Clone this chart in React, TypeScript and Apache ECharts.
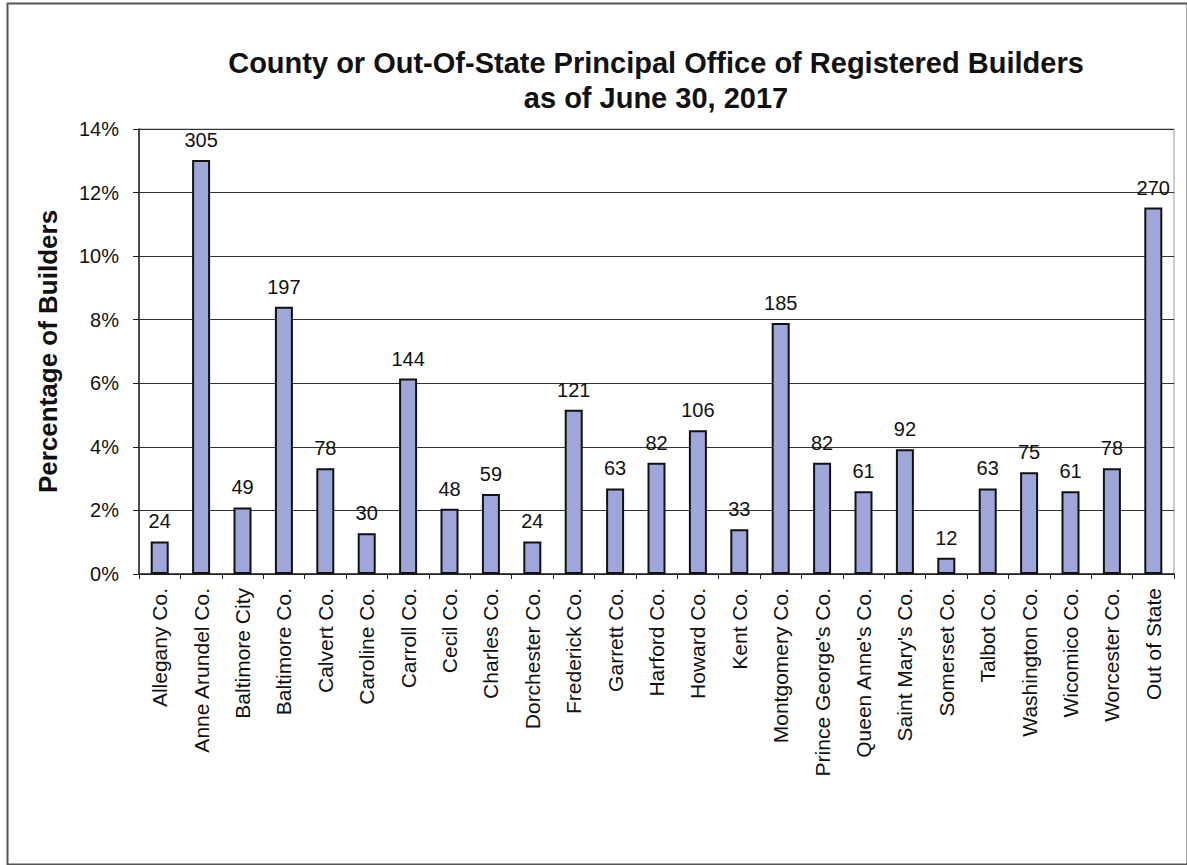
import React, { useEffect, useRef } from "react";
import * as echarts from "echarts";

const categories = [
  "Allegany Co.", "Anne Arundel Co.", "Baltimore City", "Baltimore Co.", "Calvert Co.",
  "Caroline Co.", "Carroll Co.", "Cecil Co.", "Charles Co.", "Dorchester Co.",
  "Frederick Co.", "Garrett Co.", "Harford Co.", "Howard Co.", "Kent Co.",
  "Montgomery Co.", "Prince George's Co.", "Queen Anne's Co.", "Saint Mary's Co.", "Somerset Co.",
  "Talbot Co.", "Washington Co.", "Wicomico Co.", "Worcester Co.", "Out of State",
];

const builderCounts = [
  24, 305, 49, 197, 78, 30, 144, 48, 59, 24, 121, 63, 82, 106, 33, 185, 82, 61, 92, 12, 63, 75, 61, 78, 270,
];

const yTicks = [0, 2, 4, 6, 8, 10, 12, 14];

const titleLines = [
  "County or Out-Of-State Principal Office of Registered Builders",
  "as of June 30, 2017",
];

export default function App() {
  const ref = useRef<HTMLDivElement>(null);
  useEffect(() => {
    if (!ref.current) return;
    const chart = echarts.init(ref.current, null, { renderer: "svg" });
    const total = builderCounts.reduce((a, b) => a + b, 0);
    const pct = builderCounts.map((c) => ({ value: (c / total) * 100, count: c }));
    const font = "'Liberation Sans', Arial, sans-serif";
    chart.setOption({
      animation: false,
      backgroundColor: "#ffffff",
      textStyle: { fontFamily: font },
      title: {
        text: titleLines.join("\n"),
        left: 651,
        textAlign: "center",
        top: 40,
        textStyle: { fontFamily: font, fontSize: 29, fontWeight: "bold", color: "#111", lineHeight: 35 },
      },
      graphic: {
        elements: [
          {
            type: "rect",
            left: 5,
            top: 1,
            z: 100,
            silent: true,
            shape: { width: 1180, height: 861 },
            style: { fill: "none", stroke: "#555", lineWidth: 2 },
          },
        ],
      },
      grid: { left: 139, top: 129, right: 13, bottom: 291, show: true, borderColor: "#999", borderWidth: 1, backgroundColor: "#fff" },
      xAxis: {
        type: "category",
        data: categories,
        axisLine: { lineStyle: { color: "#222", width: 1.5 } },
        axisTick: { show: true, length: 5, lineStyle: { color: "#222" } },
        axisLabel: {
          rotate: 90,
          interval: 0,
          fontSize: 21,
          color: "#111",
          fontFamily: font,
          margin: 14,
        },
      },
      yAxis: {
        type: "value",
        min: 0,
        max: 14,
        interval: 2,
        name: "Percentage of Builders",
        nameLocation: "middle",
        nameGap: 78,
        nameTextStyle: { fontSize: 26, fontWeight: "bold", color: "#111", fontFamily: font },
        axisLine: { show: true, lineStyle: { color: "#222", width: 1.5 } },
        axisTick: { show: true, length: 6, lineStyle: { color: "#222" } },
        axisLabel: {
          fontSize: 20,
          color: "#111",
          fontFamily: font,
          margin: 20,
          formatter: (v: number) => (yTicks.includes(v) ? v + "%" : ""),
        },
        splitLine: { show: true, lineStyle: { color: "#333", width: 1 } },
      },
      series: [
        {
          type: "bar",
          data: pct,
          barWidth: 18,
          itemStyle: { color: "#9fa6da", borderColor: "#111", borderWidth: 2 },
          label: {
            show: true,
            position: "top",
            distance: 10,
            fontSize: 20,
            color: "#111",
            fontFamily: font,
            formatter: (p: any) => String(p.data.count),
          },
        },
      ],
    });
    return () => chart.dispose();
  }, []);
  return (
    <div
      ref={ref}
      style={{ position: "fixed", left: 0, top: 0, width: 1187, height: 865, overflow: "hidden" }}
    />
  );
}
